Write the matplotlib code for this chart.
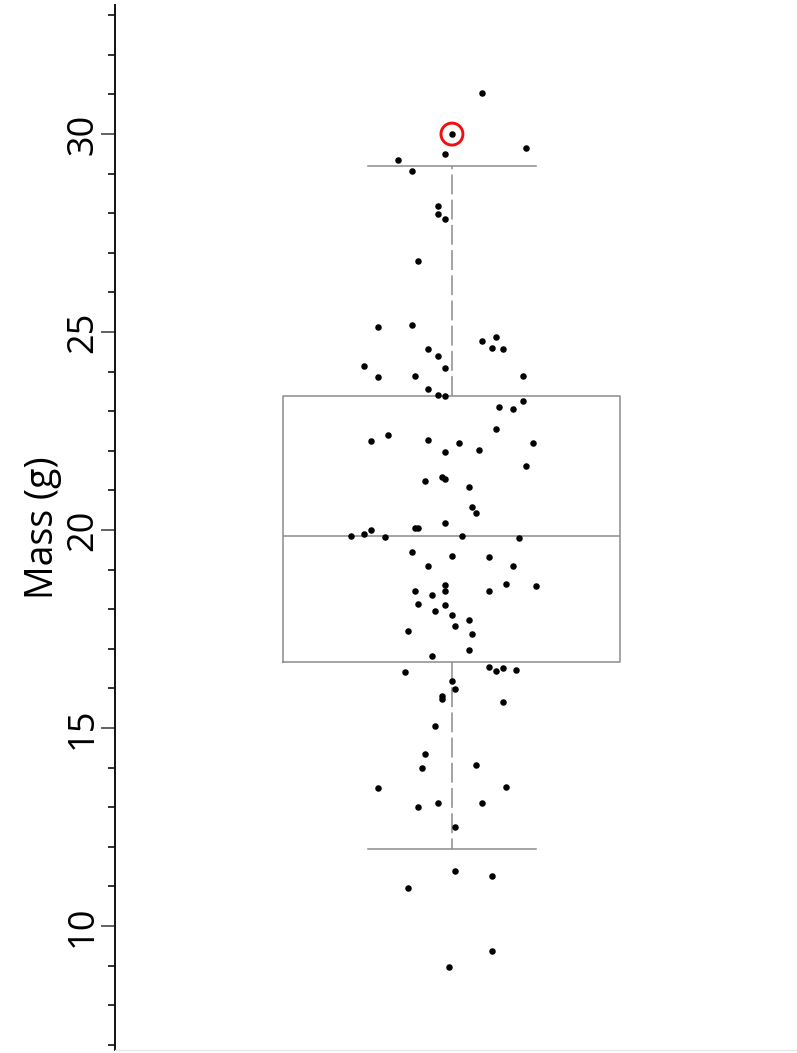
import numpy as np
import matplotlib.pyplot as plt

# mass values (g), top to bottom
mass = [
    31.03, 30.00, 29.65, 29.49, 29.34, 29.06, 28.18, 27.98, 27.85, 26.79,
    25.14, 25.18, 24.77, 24.87, 24.61, 24.58, 24.58, 24.39, 24.15, 24.09,
    23.87, 23.89, 23.89, 23.56, 23.42, 23.38, 23.11, 23.06, 23.25, 22.55,
    22.41,
    22.25, 22.27, 22.21, 22.21, 21.97, 22.02, 21.62, 21.23, 21.35, 21.30,
    21.09, 20.58, 20.42, 20.19, 20.04, 20.04, 19.99, 19.90, 19.86, 19.83,
    19.84, 19.80, 19.44, 19.35, 19.32, 19.10, 19.10, 18.62, 18.64, 18.58,
    18.47, 18.46, 18.46, 18.37, 18.13, 18.12, 17.95, 17.86, 17.74,
    17.46, 17.57, 17.37, 16.96, 16.81, 16.42, 16.53, 16.43, 16.51, 16.47,
    16.19, 15.98, 15.81, 15.73, 15.66, 15.04, 14.34, 14.07, 13.98, 13.49,
    13.50,
    13.01, 13.10, 13.10, 12.51, 11.39, 11.26, 10.95, 9.37, 8.97,
]

# horizontal jitter of each dot, in box widths from the centre
jitter = [
    0.09, 0.00, 0.22, -0.02, -0.16, -0.12, -0.04, -0.04, -0.02, -0.10,
    -0.22, -0.12, 0.09, 0.13, 0.12, 0.15, -0.07, -0.04, -0.26, -0.02,
    -0.22, -0.11, 0.21, -0.07, -0.04, -0.02, 0.14, 0.18, 0.21, 0.13,
    -0.19,
    -0.24, -0.07, 0.02, 0.24, -0.02, 0.08, 0.22, -0.08, -0.03, -0.02,
    0.05, 0.06, 0.07, -0.02, -0.11, -0.10, -0.24, -0.26, -0.30, -0.20,
    0.03, 0.20, -0.12, 0.00, 0.11, -0.07, 0.18, -0.02, 0.16, 0.25,
    -0.11, -0.02, 0.11, -0.06, -0.10, -0.02, -0.05, 0.00, 0.05,
    -0.13, 0.01, 0.06, 0.05, -0.06, -0.14, 0.11, 0.13, 0.15, 0.19,
    0.00, 0.01, -0.03, -0.03, 0.15, -0.05, -0.08, 0.07, -0.09, -0.22,
    0.16,
    -0.10, -0.04, 0.09, 0.01, 0.01, 0.12, -0.13, 0.12, -0.01,
]

# box summary as drawn (whiskers at the 5th / 95th percentile)
q1, med, q3 = 16.67, 19.85, 23.38
whis_lo, whis_hi = 11.94, 29.19
highlight = 30.00

plt.rcParams['font.family'] = ['Open Sans', 'DejaVu Sans']

fig = plt.figure(figsize=(7.97, 10.53), dpi=100)
ax = fig.add_axes([115 / 797, 3 / 1053, 682 / 797, 1045 / 1053])

stats = [dict(med=med, q1=q1, q3=q3, whislo=whis_lo, whishi=whis_hi, fliers=[])]
grey = '#8c8c8c'
ax.bxp(stats, positions=[0], widths=1.0, capwidths=0.5, showfliers=False,
       boxprops=dict(color=grey, lw=1.1),
       medianprops=dict(color=grey, lw=1.1),
       whiskerprops=dict(color=grey, lw=1.1, linestyle=(0, (13, 3.5))),
       capprops=dict(color=grey, lw=1.1))

ax.scatter(jitter, mass, s=22, color='black', zorder=3, linewidths=0)

# red ring around the highlighted animal
i = mass.index(highlight)
ax.scatter([jitter[i]], [mass[i]], s=250, facecolors='none',
           edgecolors='#ee1111', linewidths=2.1, zorder=4)

ax.set_xlim(-1.0, 1.024)
ax.set_ylim(6.87, 33.26)

ax.set_yticks([10, 15, 20, 25, 30])
ax.set_yticks(np.arange(7, 34), minor=True)
ax.tick_params(axis='y', which='major', length=10, width=1.3, pad=0,
               labelsize=26, labelrotation=90, color='#555555')
ax.tick_params(axis='y', which='minor', length=5, width=1.3, color='#222222')
for lab in ax.get_yticklabels():
    lab.set_va('center')
ax.set_xticks([])

ax.spines['top'].set_visible(False)
ax.spines['right'].set_visible(False)
ax.spines['left'].set_linewidth(1.4)
ax.spines['left'].set_color('#111111')
ax.spines['bottom'].set_color('#e6e6e6')
ax.spines['bottom'].set_linewidth(1.0)

ax.set_ylabel('Mass (g)', fontsize=27)
ax.yaxis.set_label_coords(-0.078, 0.5)

fig.savefig('out.png', dpi=100)
